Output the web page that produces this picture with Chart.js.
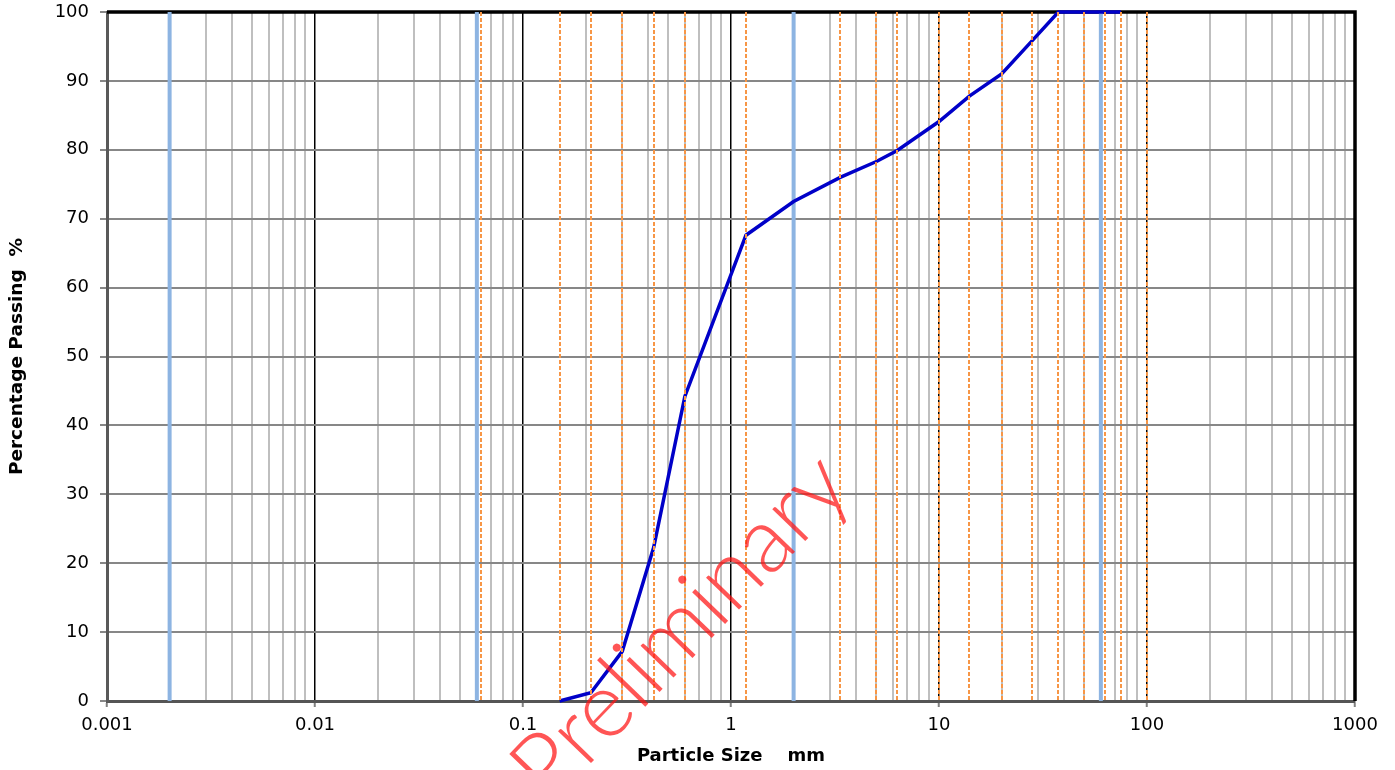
<!DOCTYPE html>
<html>
<head>
<meta charset="utf-8">
<title>Particle Size Distribution</title>
<script src="https://cdn.jsdelivr.net/npm/chart.js@4.4.1/dist/chart.umd.min.js"></script>
<style>
  html, body { margin: 0; padding: 0; background: #fff; }
  #wrap { width: 1395px; height: 770px; }
</style>
</head>
<body>
<div id="wrap"><canvas id="psd" width="1395" height="770"></canvas></div>
<script>
// grading curve: sieve size (mm) vs percentage passing
const sizes   = [0.15, 0.212, 0.3, 0.425, 0.6, 1.18, 2, 3.35, 5, 6.3, 10, 14, 20, 28, 37.5, 50, 63, 75];
const passing = [0, 1.2, 7.2, 22.3, 44.2, 67.6, 72.5, 76.0, 78.3, 79.9, 84.1, 87.8, 91.0, 95.8, 100, 100, 100, 100];

// orange dashed = sieve apertures, blue = clay/silt/sand/gravel/cobble limits
const sieveLines    = [0.063, 0.15, 0.212, 0.3, 0.425, 0.6, 1.18, 2, 3.35, 5, 6.3, 10, 14, 20, 28, 37.5, 50, 63, 75, 100];
const boundaryLines = [0.002, 0.06, 2, 60];

const xTickLabels = ['0.001', '0.01', '0.1', '1', '10', '100', '1000'];
const yTickLabels = ['0', '10', '20', '30', '40', '50', '60', '70', '80', '90', '100'];

const FONT = "'DejaVu Sans', Verdana, sans-serif";

function isDecade(v) {
    const l = Math.log10(v);
    return Math.abs(l - Math.round(l)) < 1e-9;
}

const refLines = {
    id: 'refLines',
    beforeDatasetsDraw(chart) {
        const ctx = chart.ctx;
        const a = chart.chartArea;
        const x = chart.scales.x;
        ctx.save();
        // top and right frame
        ctx.strokeStyle = '#000';
        ctx.lineWidth = 3.5;
        ctx.beginPath();
        ctx.moveTo(a.left, a.top);
        ctx.lineTo(a.right, a.top);
        ctx.lineTo(a.right, a.bottom);
        ctx.stroke();
        // soil class boundaries
        ctx.strokeStyle = '#8DB4E2';
        ctx.lineWidth = 4;
        boundaryLines.forEach(function(v) {
            const px = x.getPixelForValue(v);
            ctx.beginPath();
            ctx.moveTo(px, a.top);
            ctx.lineTo(px, a.bottom);
            ctx.stroke();
        });
        ctx.restore();
    },
    afterDatasetsDraw(chart) {
        const ctx = chart.ctx;
        const a = chart.chartArea;
        const x = chart.scales.x;
        ctx.save();
        ctx.strokeStyle = '#F79646';
        ctx.lineWidth = 2;
        ctx.setLineDash([4, 2]);
        sieveLines.forEach(function(v) {
            if (boundaryLines.indexOf(v) !== -1) return;
            const px = Math.round(x.getPixelForValue(v));
            ctx.beginPath();
            ctx.moveTo(px, a.top);
            ctx.lineTo(px, a.bottom);
            ctx.stroke();
        });
        ctx.restore();
    },
    afterDraw(chart) {
        // watermark
        const ctx = chart.ctx;
        ctx.save();
        ctx.translate(702, 648);
        ctx.rotate(-46 * Math.PI / 180);
        ctx.font = "300 92px Lato, 'Open Sans', sans-serif";
        ctx.fillStyle = 'rgba(255, 20, 20, 0.72)';
        ctx.textAlign = 'center';
        ctx.textBaseline = 'alphabetic';
        ctx.fillText('Preliminary', 0, 0);
        ctx.restore();
    }
};

const canvas = document.getElementById('psd');
new Chart(canvas.getContext('2d'), {
    type: 'scatter',
    data: {
        datasets: [{
            label: 'Passing',
            data: sizes.map(function(s, i) { return { x: s, y: passing[i] }; }),
            showLine: true,
            borderColor: '#0000C8',
            backgroundColor: '#0000C8',
            borderWidth: 3.5,
            pointRadius: 0,
            tension: 0,
            clip: 4
        }]
    },
    options: {
        responsive: false,
        animation: false,
        layout: { padding: { top: 12, right: 40, bottom: 0, left: 0 } },
        plugins: {
            legend: { display: false },
            tooltip: { enabled: false }
        },
        scales: {
            x: {
                type: 'logarithmic',
                min: 0.001,
                max: 1000,
                afterBuildTicks: function(scale) {
                    const ticks = [];
                    for (let d = 0; d < xTickLabels.length - 1; d++) {
                        const base = parseFloat(xTickLabels[d]);
                        for (let k = 1; k <= 9; k++) ticks.push({ value: base * k });
                    }
                    ticks.push({ value: parseFloat(xTickLabels[xTickLabels.length - 1]) });
                    scale.ticks = ticks;
                },
                afterFit: function(scale) {
                    scale.height = 69;
                    scale.paddingLeft = 0;
                    scale.paddingRight = 0;
                },
                ticks: {
                    autoSkip: false,
                    maxRotation: 0,
                    padding: 8,
                    color: '#000',
                    font: { family: FONT, size: 18 },
                    callback: function(value) {
                        return isDecade(value) ? xTickLabels[Math.round(Math.log10(value)) + 3] : '';
                    }
                },
                grid: {
                    color: function(c) { return c.tick && isDecade(c.tick.value) ? '#000' : '#BFBFBF'; },
                    lineWidth: function(c) { return c.tick && isDecade(c.tick.value) ? 1.5 : 2; },
                    tickLength: 6,
                    tickColor: function(c) { return c.tick && isDecade(c.tick.value) ? '#808080' : 'rgba(0,0,0,0)'; },
                    tickWidth: 2
                },
                border: { color: '#555', width: 3 },
                title: {
                    display: true,
                    text: 'Particle Size    mm',
                    color: '#000',
                    font: { family: FONT, size: 18, weight: 'bold' },
                    padding: { top: 0, bottom: 3 }
                }
            },
            y: {
                min: 0,
                max: 100,
                afterFit: function(scale) {
                    scale.width = 107;
                    scale.paddingTop = 0;
                    scale.paddingBottom = 0;
                },
                ticks: {
                    stepSize: 10,
                    padding: 11,
                    color: '#000',
                    font: { family: FONT, size: 18 },
                    callback: function(value, index) { return yTickLabels[index]; }
                },
                grid: {
                    color: '#878787',
                    lineWidth: 2,
                    tickLength: 7,
                    tickColor: '#878787',
                    tickWidth: 2
                },
                border: { color: '#595959', width: 3 },
                title: {
                    display: true,
                    text: 'Percentage Passing  %',
                    color: '#000',
                    font: { family: FONT, size: 18.5, weight: 'bold' },
                    padding: { top: 6, bottom: 0 }
                }
            }
        }
    },
    plugins: [refLines]
});
</script>
</body>
</html>
